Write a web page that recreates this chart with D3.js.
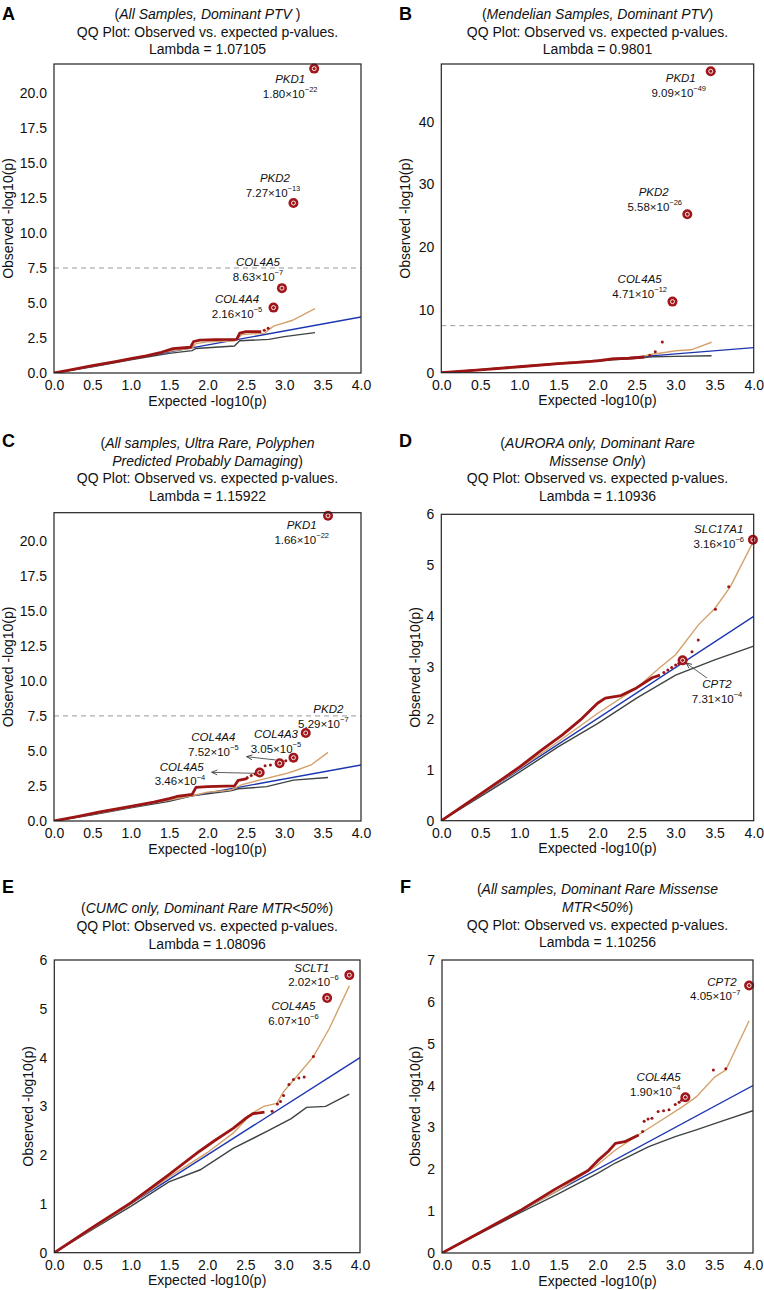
<!DOCTYPE html>
<html><head><meta charset="utf-8">
<script src="https://cdn.jsdelivr.net/npm/d3@7"></script>
<style>
body{margin:0;background:#fff}
svg{display:block;font-family:"Liberation Sans",Arial,Helvetica,sans-serif}
</style>
</head><body>
<svg id="c" width="764" height="1290"></svg>
<script>
// ---------------- DATA ----------------
const panelIds = ["A","B","C","D","E","F"];
const lambdas = ["1.07105","0.9801","1.15922","1.10936","1.08096","1.10256"];
const subtitle = "QQ Plot: Observed vs. expected p-values.";
const xLabel = "Expected -log10(p)";
const yLabel = "Observed -log10(p)";
const xTicks = [0,0.5,1,1.5,2,2.5,3,3.5,4];
const identityLine = [[0,0],[4,4]];
const sigLevel = 7.5;

// title lines: [prefix, italic, suffix]
const titleA = [["(","All Samples, Dominant PTV ",")"]];
const titleB = [["(","Mendelian Samples, Dominant PTV",")"]];
const titleC = [["(","All samples, Ultra Rare, Polyphen",""],["","Predicted Probably Damaging",")"]];
const titleD = [["(","AURORA only, Dominant Rare",""],["","Missense Only",")"]];
const titleE = [["(","CUMC only, Dominant Rare MTR<50%",")"]];
const titleF = [["(","All samples, Dominant Rare Missense",""],["","MTR<50%",")"]];

const yTicksA = [0,2.5,5,7.5,10,12.5,15,17.5,20];
const yTicksB = [0,10,20,30,40];
const yTicksC = [0,2.5,5,7.5,10,12.5,15,17.5,20];
const yTicksD = [0,1,2,3,4,5,6];
const yTicksE = [0,1,2,3,4,5,6];
const yTicksF = [0,1,2,3,4,5,6,7];

// observed (dense part drawn as thick trace) [expected, observed]
const obsLineA = [[0,0],[0.2,0.2],[0.5,0.52],[0.8,0.82],[1.0,1.03],[1.2,1.22],[1.4,1.48],[1.55,1.74],[1.78,1.84],[1.82,2.25],[1.9,2.35],[2.1,2.38],[2.38,2.4],[2.42,2.85],[2.5,2.95],[2.7,2.96]];
const obsDotsA = [[2.74,3.05],[2.79,3.2]];
const upperA = [[0,0],[0.5,0.5],[1.0,1.02],[1.5,1.55],[1.8,1.78],[1.85,2.1],[2.0,2.22],[2.35,2.28],[2.45,2.75],[2.75,2.85],[2.8,3.1],[2.86,3.35],[3.1,3.75],[3.4,4.6]];
const lowerA = [[0,0],[0.5,0.45],[1.0,0.95],[1.5,1.4],[1.8,1.6],[1.85,1.75],[2.35,1.93],[2.42,2.3],[2.8,2.4],[3.0,2.6],[3.4,2.88]];
const hitsA = [
  {gene:"PKD1", mant:"1.80", exp:"22", x:3.39, y:21.74},
  {gene:"PKD2", mant:"7.27", exp:"13", x:3.12, y:12.14},
  {gene:"COL4A5", mant:"8.63", exp:"7", x:2.97, y:6.06},
  {gene:"COL4A4", mant:"2.16", exp:"5", x:2.86, y:4.67}
];

const obsLineB = [[0,0],[0.5,0.45],[1.0,0.95],[1.5,1.45],[1.8,1.7],[2.0,1.9],[2.2,2.2],[2.4,2.3],[2.6,2.5]];
const obsDotsB = [[2.67,2.78],[2.74,3.35],[2.83,4.9]];
const upperB = [[0,0],[0.5,0.5],[1.0,1.0],[1.5,1.55],[2.0,2.0],[2.2,2.35],[2.5,2.45],[2.7,2.95],[2.9,3.3],[3.0,3.5],[3.2,3.65],[3.46,4.85]];
const lowerB = [[0,0],[0.5,0.45],[1.0,0.9],[1.5,1.4],[2.0,1.85],[2.2,2.05],[2.5,2.3],[2.7,2.55],[3.0,2.6],[3.46,2.7]];
const hitsB = [
  {gene:"PKD1", mant:"9.09", exp:"49", x:3.45, y:48.04},
  {gene:"PKD2", mant:"5.58", exp:"26", x:3.15, y:25.25},
  {gene:"COL4A5", mant:"4.71", exp:"12", x:2.96, y:11.33}
];

const obsLineC = [[0,0],[0.3,0.32],[0.6,0.65],[1.0,1.05],[1.3,1.35],[1.5,1.6],[1.6,1.75],[1.8,1.9],[1.85,2.4],[2.0,2.45],[2.35,2.5],[2.4,2.9],[2.5,3.0],[2.53,3.15]];
const obsDotsC = [[2.57,3.25],[2.62,3.35],[2.75,3.95],[2.82,4.0],[3.02,4.3]];
const upperC = [[0,0],[0.5,0.5],[1.0,1.0],[1.5,1.5],[1.8,1.8],[2.0,2.05],[2.3,2.2],[2.45,2.6],[2.7,2.95],[3.0,3.35],[3.12,3.55],[3.35,4.0],[3.57,4.9]];
const lowerC = [[0,0],[0.5,0.45],[1.0,0.95],[1.5,1.4],[1.8,1.8],[2.3,2.15],[2.4,2.3],[2.77,2.45],[3.12,2.92],[3.57,3.1]];
const hitsC = [
  {gene:"PKD1", mant:"1.66", exp:"22", x:3.57, y:21.78},
  {gene:"PKD2", mant:"5.29", exp:"7", x:3.28, y:6.28},
  {gene:"COL4A3", mant:"3.05", exp:"5", x:3.12, y:4.52},
  {gene:"COL4A4", mant:"7.52", exp:"5", x:2.94, y:4.12},
  {gene:"COL4A5", mant:"3.46", exp:"4", x:2.68, y:3.46}
];

const obsLineD = [[0,0],[0.5,0.52],[1.0,1.05],[1.3,1.4],[1.55,1.68],[1.8,2.0],[2.0,2.3],[2.1,2.4],[2.3,2.45],[2.5,2.6],[2.7,2.8],[2.8,2.85]];
const obsDotsD = [[2.85,2.9],[2.9,2.95],[2.95,3.0],[3.0,3.05],[3.04,3.08],[3.21,3.31],[3.29,3.54],[3.51,4.14],[3.68,4.58]];
const upperD = [[0,0],[0.5,0.5],[1.0,1.02],[1.5,1.55],[2.0,2.1],[2.5,2.6],[2.8,3.0],[3.0,3.25],[3.1,3.45],[3.3,3.85],[3.5,4.15],[3.7,4.58],[3.99,5.45]];
const lowerD = [[0,0],[0.5,0.47],[1.0,0.95],[1.5,1.45],[2.0,1.9],[2.5,2.4],[3.0,2.85],[3.5,3.15],[4.0,3.42]];
const hitsD = [
  {gene:"SLC17A1", mant:"3.16", exp:"6", x:3.99, y:5.5},
  {gene:"CPT2", mant:"7.31", exp:"4", x:3.09, y:3.14}
];

const obsLineE = [[0,0],[0.5,0.52],[1.0,1.02],[1.5,1.6],[1.9,2.08],[2.1,2.3],[2.34,2.55],[2.5,2.75],[2.6,2.85],[2.75,2.88]];
const obsDotsE = [[2.85,2.9],[2.92,3.05],[2.96,3.1],[3.0,3.22],[3.07,3.45],[3.13,3.55],[3.2,3.58],[3.27,3.6],[3.39,4.02]];
const upperE = [[0,0],[0.5,0.5],[1.0,1.0],[1.5,1.55],[2.0,2.05],[2.34,2.45],[2.58,2.85],[2.74,3.0],[2.91,3.06],[3.0,3.3],[3.24,3.74],[3.39,4.02],[3.6,4.6],[3.86,5.47]];
const lowerE = [[0,0],[0.5,0.48],[1.0,0.95],[1.5,1.45],[1.91,1.7],[2.34,2.14],[2.8,2.5],[3.1,2.75],[3.3,2.98],[3.55,3.0],[3.86,3.25]];
const hitsE = [
  {gene:"SCLT1", mant:"2.02", exp:"6", x:3.86, y:5.69},
  {gene:"COL4A5", mant:"6.07", exp:"6", x:3.57, y:5.22}
];

const obsLineF = [[0,0],[0.5,0.5],[1.02,1.03],[1.45,1.52],[1.88,1.97],[2.0,2.2],[2.14,2.43],[2.23,2.62],[2.35,2.66],[2.53,2.82]];
const obsDotsF = [[2.58,2.9],[2.6,3.15],[2.65,3.2],[2.7,3.22],[2.78,3.38],[2.85,3.4],[2.92,3.42],[3.0,3.55],[3.05,3.6],[3.08,3.65],[3.49,4.37],[3.65,4.4]];
const upperF = [[0,0],[0.5,0.5],[1.0,1.0],[1.5,1.5],[1.97,2.06],[2.23,2.46],[2.66,2.98],[3.09,3.49],[3.27,3.73],[3.51,4.21],[3.65,4.37],[3.95,5.55]];
const lowerF = [[0,0],[0.5,0.48],[1.0,0.96],[1.5,1.42],[2.0,1.9],[2.23,2.15],[2.66,2.54],[3.0,2.78],[3.27,2.94],[3.6,3.15],[4.0,3.4]];
const hitsF = [
  {gene:"CPT2", mant:"4.05", exp:"7", x:3.95, y:6.39},
  {gene:"COL4A5", mant:"1.90", exp:"4", x:3.13, y:3.72}
];

// ---------------- LAYOUT (positions / styles) ----------------
const layout = {
  A:{x0:54,x1:361,y0:64,y1:373,ymax:22.07,fmt:".1f",titleY:19,letter:[2,20],yTitleX:8,sig:true},
  B:{x0:441.3,x1:753.7,y0:64,y1:372.7,ymax:49.2,fmt:"d",titleY:19,letter:[399,20],yTitleX:405,sig:true},
  C:{x0:54,x1:361,y0:512.7,y1:821,ymax:22.0,fmt:".1f",titleY:448,letter:[2,447],yTitleX:8,sig:true},
  D:{x0:441.3,x1:753.7,y0:514.3,y1:820.7,ymax:6,fmt:"d",titleY:448,letter:[399,447],yTitleX:415,sig:false},
  E:{x0:54.3,x1:360,y0:960,y1:1252.7,ymax:6,fmt:"d",titleY:913.3,letter:[2,893],yTitleX:28,sig:false},
  F:{x0:442,x1:753,y0:960,y1:1253,ymax:7,fmt:"d",titleY:894.3,letter:[400,893],yTitleX:415,sig:false}
};
// label offsets (pixels from marker): [dx, dy] of gene-name centre, number x shift
const labelOffsets = {
  A:{PKD1:[-24,10.7,0],PKD2:[-18.5,-25,-2],COL4A5:[-24,-26,0],COL4A4:[-36.5,-8.6,0]},
  B:{PKD1:[-30,7,-2],PKD2:[-33.6,-22,1],COL4A5:[-32.8,-22.7,0]},
  C:{PKD1:[-26.3,9.4,0],PKD2:[22.6,-23.7,-5],COL4A3:[-17.5,-23.7,0],COL4A4:[-66.3,-26,0],COL4A5:[-78,-5.8,-1.7]},
  D:{SLC17A1:[-34.2,-10.8,0],CPT2:[34.4,23.7,0]},
  E:{SCLT1:[-37.5,-7.7,1.6],COL4A5:[-33.7,8,0]},
  F:{CPT2:[-27.1,-3.8,-6.7],COL4A5:[-26.7,-20,-3.4]}
};
// arrows (pixels from marker): [x1,y1,x2,y2], head at x2,y2
const arrowOffsets = {
  C:{COL4A4:[-4,-3.3,-33,-6.6],COL4A5:[-4,0.8,-48,-0.2]},
  D:{CPT2:[24.4,17.7,3.4,2.7]}
};

const COL = {obs:"#9c1414", upper:"#d3a26c", lower:"#3d4343", ident:"#1c35b0", sig:"#9a9a9a", hit:"#a0161b"};

const panels = [
  {id:"A",title:titleA,yTicks:yTicksA,obsLine:obsLineA,obsDots:obsDotsA,upper:upperA,lower:lowerA,hits:hitsA},
  {id:"B",title:titleB,yTicks:yTicksB,obsLine:obsLineB,obsDots:obsDotsB,upper:upperB,lower:lowerB,hits:hitsB},
  {id:"C",title:titleC,yTicks:yTicksC,obsLine:obsLineC,obsDots:obsDotsC,upper:upperC,lower:lowerC,hits:hitsC},
  {id:"D",title:titleD,yTicks:yTicksD,obsLine:obsLineD,obsDots:obsDotsD,upper:upperD,lower:lowerD,hits:hitsD},
  {id:"E",title:titleE,yTicks:yTicksE,obsLine:obsLineE,obsDots:obsDotsE,upper:upperE,lower:lowerE,hits:hitsE},
  {id:"F",title:titleF,yTicks:yTicksF,obsLine:obsLineF,obsDots:obsDotsF,upper:upperF,lower:lowerF,hits:hitsF}
];

// ---------------- DRAW ----------------
const svg = d3.select("#c");
svg.append("rect").attr("width",764).attr("height",1290).attr("fill","#fff");
const defs = svg.append("defs");
defs.append("marker").attr("id","arr").attr("viewBox","0 0 10 10")
  .attr("refX",9).attr("refY",5).attr("markerWidth",7).attr("markerHeight",7)
  .attr("markerUnits","userSpaceOnUse").attr("orient","auto")
  .append("path").attr("d","M1,1.5 L9,5 L1,8.5").attr("fill","none")
  .attr("stroke","#333").attr("stroke-width",1.2);

panels.forEach((p,i)=>{
  const L = layout[p.id];
  const x = d3.scaleLinear().domain([0,4]).range([L.x0,L.x1]);
  const y = d3.scaleLinear().domain([0,L.ymax]).range([L.y1,L.y0]);
  const cx = (L.x0+L.x1)/2;
  const g = svg.append("g");

  // panel letter
  g.append("text").attr("x",L.letter[0]).attr("y",L.letter[1])
    .attr("font-size",18).attr("font-weight","bold").attr("fill","#000").text(p.id);

  // title
  const lineH = 17.7;
  p.title.forEach((t,k)=>{
    const tx = g.append("text").attr("x",cx).attr("y",L.titleY+k*lineH)
      .attr("text-anchor","middle").attr("font-size",14).attr("fill","#111");
    if(t[0]) tx.append("tspan").text(t[0]);
    tx.append("tspan").attr("font-style","italic").text(t[1]);
    if(t[2]) tx.append("tspan").text(t[2]);
  });
  const nT = p.title.length;
  g.append("text").attr("x",cx).attr("y",L.titleY+nT*lineH).attr("text-anchor","middle")
    .attr("font-size",14).attr("fill","#111").text(subtitle);
  g.append("text").attr("x",cx).attr("y",L.titleY+(nT+1)*lineH).attr("text-anchor","middle")
    .attr("font-size",14).attr("fill","#111").text("Lambda = "+lambdas[i]);

  // clip
  const cid = "clip"+p.id;
  defs.append("clipPath").attr("id",cid).append("rect")
    .attr("x",L.x0).attr("y",L.y0).attr("width",L.x1-L.x0).attr("height",L.y1-L.y0);
  const plot = g.append("g").attr("clip-path",`url(#${cid})`);
  const line = d3.line().x(d=>x(d[0])).y(d=>y(d[1]));

  if(L.sig){
    plot.append("line").attr("x1",L.x0).attr("x2",L.x1).attr("y1",y(sigLevel)).attr("y2",y(sigLevel))
      .attr("stroke",COL.sig).attr("stroke-width",1).attr("stroke-dasharray","5,4");
  }
  plot.append("path").datum(p.lower).attr("d",line).attr("fill","none")
    .attr("stroke",COL.lower).attr("stroke-width",1.4);
  plot.append("path").datum(identityLine).attr("d",line).attr("fill","none")
    .attr("stroke",COL.ident).attr("stroke-width",1.4);
  plot.append("path").datum(p.upper).attr("d",line).attr("fill","none")
    .attr("stroke",COL.upper).attr("stroke-width",1.4);
  plot.append("path").datum(p.obsLine).attr("d",line).attr("fill","none")
    .attr("stroke",COL.obs).attr("stroke-width",2.8).attr("stroke-linejoin","round");
  plot.selectAll("circle.od").data(p.obsDots).join("circle").attr("class","od")
    .attr("cx",d=>x(d[0])).attr("cy",d=>y(d[1])).attr("r",1.5).attr("fill",COL.obs);

  // arrows
  const ao = arrowOffsets[p.id]||{};
  p.hits.forEach(h=>{
    const a = ao[h.gene]; if(!a) return;
    const px=x(h.x), py=y(h.y);
    g.append("line").attr("x1",px+a[0]).attr("y1",py+a[1]).attr("x2",px+a[2]).attr("y2",py+a[3])
      .attr("stroke","#333").attr("stroke-width",0.8).attr("marker-end","url(#arr)");
  });

  // hit markers
  const hg = g.selectAll("g.hit").data(p.hits).join("g").attr("class","hit")
    .attr("transform",d=>`translate(${x(d.x)},${y(d.y)})`);
  hg.append("circle").attr("r",5).attr("fill",COL.hit);
  hg.append("circle").attr("r",2).attr("fill","none").attr("stroke","#fff").attr("stroke-width",0.9);

  // hit labels
  p.hits.forEach(h=>{
    const o = labelOffsets[p.id][h.gene];
    const px=x(h.x)+o[0], py=y(h.y)+o[1];
    g.append("text").attr("x",px).attr("y",py).attr("dy","0.36em").attr("text-anchor","middle")
      .attr("font-size",11.5).attr("font-style","italic").attr("fill","#111").text(h.gene);
    const t = g.append("text").attr("x",px+o[2]).attr("y",py+14.5).attr("dy","0.36em")
      .attr("text-anchor","middle").attr("font-size",11.5).attr("fill","#111");
    t.append("tspan").text(h.mant+"\u00d710");
    t.append("tspan").attr("font-size",7.5).attr("dy","-0.75em").text("\u2212"+h.exp);
  });

  // box
  g.append("rect").attr("x",L.x0).attr("y",L.y0).attr("width",L.x1-L.x0).attr("height",L.y1-L.y0)
    .attr("fill","none").attr("stroke","#222").attr("stroke-width",1.2);

  // axes
  const ya = g.append("g").attr("transform",`translate(${L.x0},0)`)
    .call(d3.axisLeft(y).tickValues(p.yTicks).tickSize(0).tickPadding(7).tickFormat(d3.format(L.fmt)));
  const xa = g.append("g").attr("transform",`translate(0,${L.y1})`)
    .call(d3.axisBottom(x).tickValues(xTicks).tickSize(0).tickPadding(7).tickFormat(d3.format(".1f")));
  [ya,xa].forEach(a=>{
    a.select(".domain").remove();
    a.selectAll("text").attr("font-size",14).attr("fill","#111")
      .attr("font-family","'Liberation Sans',Arial,sans-serif");
  });

  // axis titles
  g.append("text").attr("x",cx).attr("y",L.y1+32.5).attr("text-anchor","middle")
    .attr("font-size",14).attr("fill","#111").text(xLabel);
  g.append("text").attr("transform",`translate(${L.yTitleX},${(L.y0+L.y1)/2}) rotate(-90)`)
    .attr("dy","0.35em").attr("text-anchor","middle").attr("font-size",14).attr("fill","#111").text(yLabel);
});
</script>
</body></html>
